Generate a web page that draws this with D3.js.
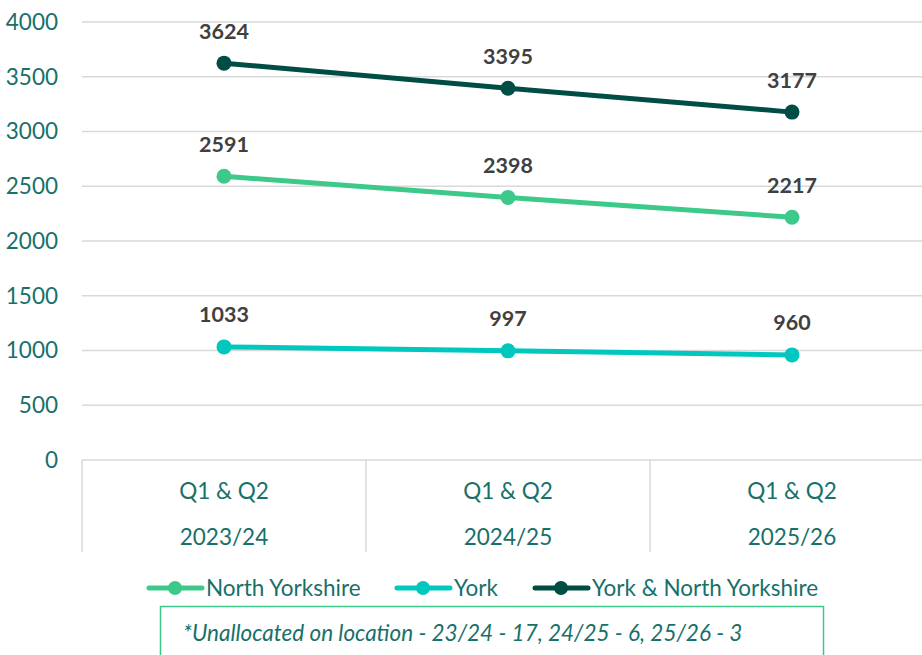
<!DOCTYPE html>
<html><head><meta charset="utf-8">
<script src="https://cdn.jsdelivr.net/npm/d3@7/dist/d3.min.js"></script>
<style>body{margin:0;background:#fff}svg{display:block}</style>
</head><body>
<svg id="c" width="922" height="655"></svg>
<script>
const quarters = ["Q1 & Q2","Q1 & Q2","Q1 & Q2"];
const years = ["2023/24","2024/25","2025/26"];
const northYorkshire = [2591, 2398, 2217];
const york = [1033, 997, 960];
const yorkNorthYorkshire = [3624, 3395, 3177];
const yTicks = [0,500,1000,1500,2000,2500,3000,3500,4000];
const seriesNames = ["North Yorkshire","York","York & North Yorkshire"];
const note = "*Unallocated on location - 23/24 - 17, 24/25 - 6, 25/26 - 3";

const colors = ["#3cc98a","#00c8be","#004d45"];
const series = [northYorkshire, york, yorkNorthYorkshire];
const font = "Lato, 'Open Sans', sans-serif";
const axisColor = "#17706a";
const fs = 22.5;

const svg = d3.select("#c");
const x = d3.scaleBand().domain(years).range([82, 934]);
const y = d3.scaleLinear().domain([0,4000]).range([460, 22]);

svg.append("g").selectAll("line").data(yTicks.filter(d=>d>0)).join("line")
  .attr("x1",82).attr("x2",922).attr("y1",d=>y(d)).attr("y2",d=>y(d))
  .attr("stroke","#d9d9d9").attr("stroke-width",1.5);
svg.append("g").selectAll("text").data(yTicks).join("text")
  .attr("x",58).attr("y",d=>y(d)).attr("dy","0.35em").attr("text-anchor","end")
  .attr("font-family",font).attr("font-size",fs).attr("fill",axisColor).text(d=>d);
svg.append("line").attr("x1",82).attr("x2",922).attr("y1",y(0)).attr("y2",y(0))
  .attr("stroke","#d9d9d9").attr("stroke-width",1.5);
const bounds = [x.range()[0], ...years.slice(1).map(d=>x(d))];
svg.append("g").selectAll("line").data(bounds).join("line")
  .attr("x1",d=>d).attr("x2",d=>d).attr("y1",y(0)).attr("y2",552)
  .attr("stroke","#d9d9d9").attr("stroke-width",1.5);
const cx = d=>x(d)+x.bandwidth()/2;
svg.append("g").selectAll("text").data(years).join("text")
  .attr("x",cx).attr("y",491).attr("dy","0.35em").attr("text-anchor","middle")
  .attr("font-family",font).attr("font-size",fs).attr("fill",axisColor).text((d,i)=>quarters[i]);
svg.append("g").selectAll("text").data(years).join("text")
  .attr("x",cx).attr("y",537).attr("dy","0.35em").attr("text-anchor","middle")
  .attr("font-family",font).attr("font-size",fs).attr("fill",axisColor).text(d=>d);

const line = d3.line().x((d,i)=>cx(years[i])).y(d=>y(d));
series.forEach((s,k)=>{
  svg.append("path").datum(s).attr("d",line).attr("fill","none")
    .attr("stroke",colors[k]).attr("stroke-width",5).attr("stroke-linecap","round");
  svg.append("g").selectAll("circle").data(s).join("circle")
    .attr("cx",(d,i)=>cx(years[i])).attr("cy",d=>y(d)).attr("r",7.5).attr("fill",colors[k]);
  svg.append("g").selectAll("text").data(s).join("text")
    .attr("x",(d,i)=>cx(years[i])).attr("y",d=>y(d)-32).attr("dy","0.35em")
    .attr("text-anchor","middle").attr("font-family",font).attr("font-weight","bold")
    .attr("font-size",21.5).attr("fill","#404040").text(d=>d);
});

const legendPos = [147, 395, 533];
const leg = svg.append("g");
seriesNames.forEach((n,k)=>{
  const lx = legendPos[k];
  leg.append("line").attr("x1",lx+2).attr("x2",lx+55).attr("y1",588).attr("y2",588)
    .attr("stroke",colors[k]).attr("stroke-width",5).attr("stroke-linecap","round");
  leg.append("circle").attr("cx",lx+28).attr("cy",588).attr("r",7).attr("fill",colors[k]);
  leg.append("text").attr("x",lx+59).attr("y",588).attr("dy","0.35em")
    .attr("font-family",font).attr("font-size",fs).attr("fill",axisColor).text(n);
});

svg.append("rect").attr("x",160.5).attr("y",606.5).attr("width",663).attr("height",60)
  .attr("fill","none").attr("stroke","#3cc98a").attr("stroke-width",1.5);
svg.append("text").attr("x",183).attr("y",633).attr("dy","0.35em")
  .attr("font-family",font).attr("font-style","italic").attr("font-size",22.5)
  .attr("fill",axisColor).text(note);
</script>
</body></html>
